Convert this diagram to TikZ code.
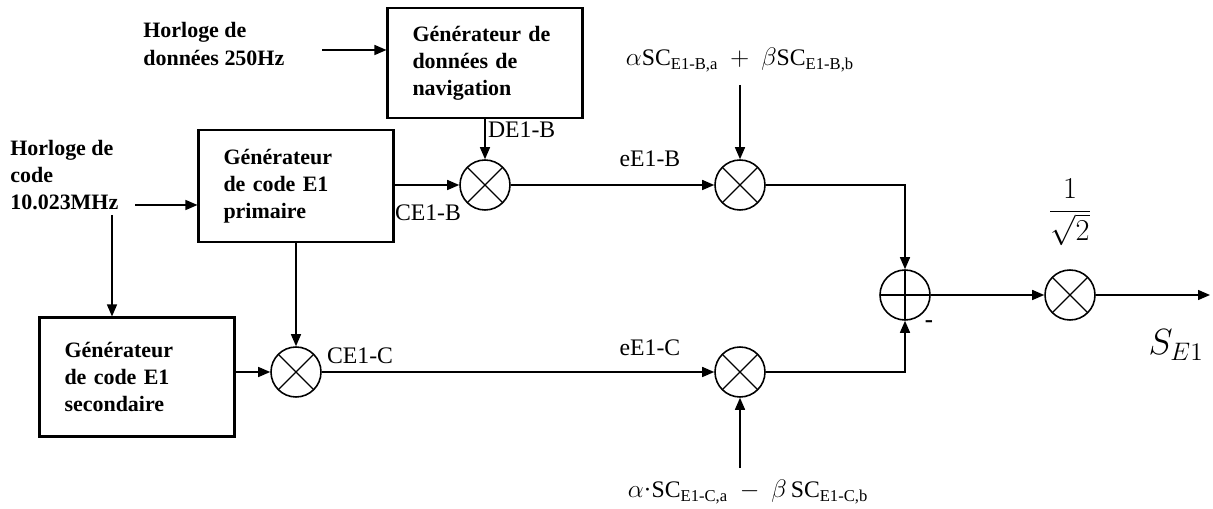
\documentclass[tikz,border=0pt]{standalone}
\usepackage{fontspec}
\setmainfont{Liberation Serif}
\usetikzlibrary{arrows.meta, positioning, calc}

\begin{document}
\begin{tikzpicture}[
  x=0.02cm, y=-0.02cm,
  gbox/.style={draw, line width=1.2pt, minimum width=3.9cm, minimum height=#1,
    text width=2.9cm, align=left, inner sep=0pt,
    font=\bfseries\fontsize{12.5}{15.4}\selectfont},
  gbox/.default=2.2cm,
  clk/.style={font=\bfseries\fontsize{12.5}{15.4}\selectfont, align=left,
    anchor=west, inner sep=0pt},
  mult/.style={circle, draw, line width=0.9pt, minimum size=1cm, inner sep=0pt,
    path picture={\draw[line width=0.7pt]
      (path picture bounding box.north west) -- (path picture bounding box.south east)
      (path picture bounding box.north east) -- (path picture bounding box.south west);}},
  summ/.style={circle, draw, line width=0.9pt, minimum size=1cm, inner sep=0pt,
    path picture={\draw[line width=0.7pt]
      (path picture bounding box.north) -- (path picture bounding box.south)
      (path picture bounding box.west) -- (path picture bounding box.east);}},
  lbl/.style={font=\fontsize{13.5}{16}\selectfont, inner sep=1pt},
  arr/.style={-{Triangle[length=0.24cm,width=0.2cm]}, line width=0.8pt},
  wire/.style={line width=0.8pt}
]
  \useasboundingbox (0,0) rectangle (1213,509);

  % generators
  \node[gbox] (nav) at (485,63) {G\'en\'erateur de\\donn\'ees de\\navigation};
  \node[gbox=2.24cm] (prim) at (296,186) {G\'en\'erateur\\de code E1\\primaire};
  \node[gbox=2.38cm] (sec) at (137,377) {G\'en\'erateur\\de code E1\\secondaire};

  % clocks
  \node[clk] (hdata) at (143,44) {Horloge de\\donn\'ees 250Hz};
  \node[clk] (hcode) at (10,175) {Horloge de\\code\\10.023MHz};
  \coordinate (hdin) at (322,50);
  \coordinate (hcin) at (135,205);
  \coordinate (hcdown) at (112,215);

  % operators
  \node[mult] (m1) at (485,185) {};
  \node[mult] (m2) at (296,372) {};
  \node[mult] (m3) at (740,185) {};
  \node[mult] (m4) at (740,372) {};
  \node[summ] (sum) at (905,295) {};
  \node[mult] (m5) at (1070,295) {};

  % subcarriers
  \node[lbl] (scb) at (740,60)
    {$\alpha$SC\textsubscript{E1-B,a}\enspace$+$\enspace$\beta$SC\textsubscript{E1-B,b}};
  \node[lbl] (scc) at (748,492)
    {$\alpha$\textperiodcentered SC\textsubscript{E1-C,a}\enspace$-$\enspace$\beta$\,SC\textsubscript{E1-C,b}};
  \coordinate (scbin) at (740,85);
  \coordinate (sccin) at (740,468);
  \coordinate (out) at (1210,295);

  % labels
  \node[lbl, anchor=west] (de1b) at (486,130) {DE1-B};
  \node[lbl] (ce1b) at (428,213) {CE1-B};
  \node[lbl, anchor=west] (ce1c) at (325,356) {CE1-C};
  \node[lbl] (ee1b) at (650,159) {eE1-B};
  \node[lbl] (ee1c) at (650,348) {eE1-C};
  \node[font=\bfseries\fontsize{14}{16}\selectfont, inner sep=0pt] (minus) at (929,324) {-};
  \node[font=\fontsize{17}{20}\selectfont] (gain) at (1070,212) {$\displaystyle\frac{1}{\sqrt{2}}$};
  \node[font=\fontsize{22}{26}\selectfont] (se1) at (1176,345) {$S_{E1}$};

  % connections
  \draw[arr] (hdin) -- (hdin -| nav.west);
  \draw[arr] (hcin) -- (hcin -| prim.west);
  \draw[arr] (hcdown) -- (hcdown |- sec.north);
  \draw[arr] (nav.south) -- (m1.north);
  \draw[arr] (m1 -| prim.east) -- (m1.west);
  \draw[arr] (prim.south) -- (m2.north);
  \draw[arr] (m2 -| sec.east) -- (m2.west);
  \draw[arr] (m1.east) -- (m3.west);
  \draw[arr] (m2.east) -- (m4.west);
  \draw[arr] (scbin) -- (m3.north);
  \draw[arr] (sccin) -- (m4.south);
  \draw[arr] (m3.east) -| (sum.north);
  \draw[arr] (m4.east) -| (sum.south);
  \draw[arr] (sum.east) -- (m5.west);
  \draw[arr] (m5.east) -- (out);

\end{tikzpicture}
\end{document}
